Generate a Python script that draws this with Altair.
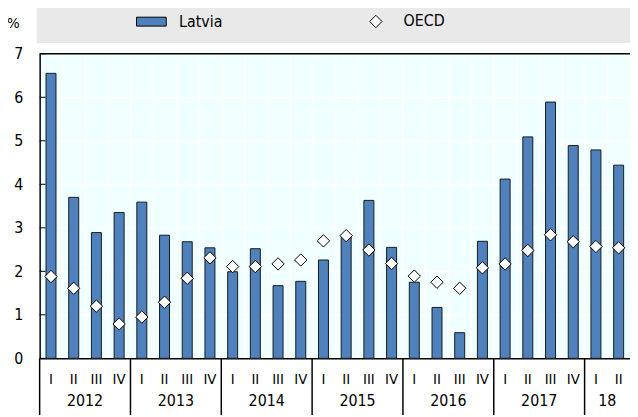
import altair as alt
import pandas as pd

years = ["2012", "2013", "2014", "2015", "2016", "2017", "18"]
quarters = ["I", "II", "III", "IV"] * 6 + ["I", "II"]
latvia = [6.55, 3.70, 2.89, 3.35, 3.59, 2.83, 2.68, 2.54, 1.99, 2.52, 1.67, 1.77,
          2.26, 2.79, 3.63, 2.55, 1.75, 1.17, 0.59, 2.69, 4.12, 5.09, 5.89, 4.89,
          4.79, 4.44]
oecd = [1.88, 1.61, 1.20, 0.79, 0.95, 1.29, 1.84, 2.31, 2.11, 2.11, 2.17, 2.26,
        2.70, 2.82, 2.49, 2.18, 1.89, 1.75, 1.61, 2.08, 2.17, 2.48, 2.84, 2.68,
        2.57, 2.54]
series = ["Latvia", "OECD"]
y_ticks = list(range(0, 8))

FONT = "DejaVu Sans Condensed, Liberation Sans, Arial, sans-serif"
W, H = 597, 308
n = len(quarters)

bars_df = pd.DataFrame({
    "x0": [i + 0.28 for i in range(n)],
    "x1": [i + 0.72 for i in range(n)],
    "value": latvia,
    "series": series[0],
})
pts_df = pd.DataFrame({
    "pos": [i + 0.5 for i in range(n)],
    "value": oecd,
    "series": series[1],
})
q_df = pd.DataFrame({"pos": [i + 0.5 for i in range(n)], "label": quarters})
year_pos = []
for k, yname in enumerate(years):
    start = 4 * k
    end = min(4 * k + 4, n)
    year_pos.append((start + end) / 2)
yr_df = pd.DataFrame({"pos": year_pos, "label": years})
sep_df = pd.DataFrame({"pos": [4 * k for k in range(len(years))]})
tick_df = pd.DataFrame({"v": y_ticks})
one = pd.DataFrame({"a": [0]})

rect_path = "M-3,-0.9H3V0.9H-3Z"
diamond_path = "M0,-1.25L1.25,0L0,1.25L-1.25,0Z"

xs = alt.Scale(domain=[0, n], nice=False, zero=False)
ys = alt.Scale(domain=[0, 7], nice=False)
fill_scale = alt.Scale(domain=series, range=["#4F81BD", "white"])
shape_scale = alt.Scale(domain=series, range=[rect_path, diamond_path])

x_axis = alt.Axis(
    values=list(range(n + 1)), grid=True, gridColor="white", gridWidth=1.5,
    labels=False, ticks=False, domain=True, domainColor="black",
    domainWidth=1.5, title=None)
y_axis = alt.Axis(
    values=y_ticks, grid=True, gridColor="white", gridWidth=1.5,
    ticks=False, domain=True, domainColor="black", domainWidth=1.5,
    labelFontSize=16, labelFont=FONT, labelColor="black", labelPadding=17,
    title="%", titleAngle=0, titleX=-27, titleY=-32, titleFontSize=15,
    titleFont=FONT, titleFontWeight="normal", titleAlign="center",
    titleBaseline="middle", titleColor="black")

band = alt.Chart(one).mark_rect(color="#E9E9E9").encode(
    x=alt.value(-3), x2=alt.value(W + 3), y=alt.value(-49), y2=alt.value(-11)
)

legend = alt.Legend(
    title=None, orient="none", legendX=105, legendY=-41, direction="horizontal",
    symbolSize=100, symbolStrokeColor="black", symbolStrokeWidth=1,
    labelFontSize=16, labelFont=FONT, labelOffset=20, columnPadding=146,
    padding=0, labelColor="black",
)

bars = alt.Chart(bars_df).mark_bar(stroke="#1a1a1a", strokeWidth=1).encode(
    x=alt.X("x0:Q", scale=xs, axis=x_axis),
    x2="x1:Q",
    y=alt.Y("value:Q", scale=ys, axis=y_axis),
    y2=alt.datum(0),
    fill=alt.Fill("series:N", scale=fill_scale, legend=legend),
)

points = alt.Chart(pts_df).mark_point(
    filled=True, stroke="black", strokeWidth=1, size=100, opacity=1
).encode(
    x=alt.X("pos:Q", scale=xs, axis=x_axis),
    y=alt.Y("value:Q", scale=ys, axis=y_axis),
    fill=alt.Fill("series:N", scale=fill_scale, legend=legend),
    shape=alt.Shape("series:N", scale=shape_scale, legend=legend),
)

top_border = alt.Chart(one).mark_rule(color="black", strokeWidth=1.5).encode(
    x=alt.value(0), x2=alt.value(W), y=alt.value(0)
)

yticks = alt.Chart(tick_df).mark_rule(color="black", strokeWidth=1).encode(
    y=alt.Y("v:Q", scale=ys, axis=y_axis), x=alt.value(0), x2=alt.value(6)
)

seps = alt.Chart(sep_df).mark_rule(color="black", strokeWidth=1.5).encode(
    x=alt.X("pos:Q", scale=xs, axis=x_axis), y=alt.value(H), y2=alt.value(H + 60)
)

qlab = alt.Chart(q_df).mark_text(
    font=FONT, fontSize=15, color="black", baseline="middle"
).encode(x=alt.X("pos:Q", scale=xs, axis=x_axis), y=alt.value(H + 21), text="label:N")

ylab = alt.Chart(yr_df).mark_text(
    font=FONT, fontSize=16, color="black", baseline="middle"
).encode(x=alt.X("pos:Q", scale=xs, axis=x_axis), y=alt.value(H + 43), text="label:N")

chart = alt.layer(band, bars, points, top_border, yticks, seps, qlab, ylab).properties(
    width=W, height=H,
    padding={"left": 32, "top": 44, "right": 0, "bottom": 55},
    autosize=alt.AutoSizeParams(type="none"),
).configure(
    font=FONT
).configure_view(
    fill="#F0FFFF", stroke=None
)

chart.save("out.html", embed_options={"renderer": "svg", "actions": False})
